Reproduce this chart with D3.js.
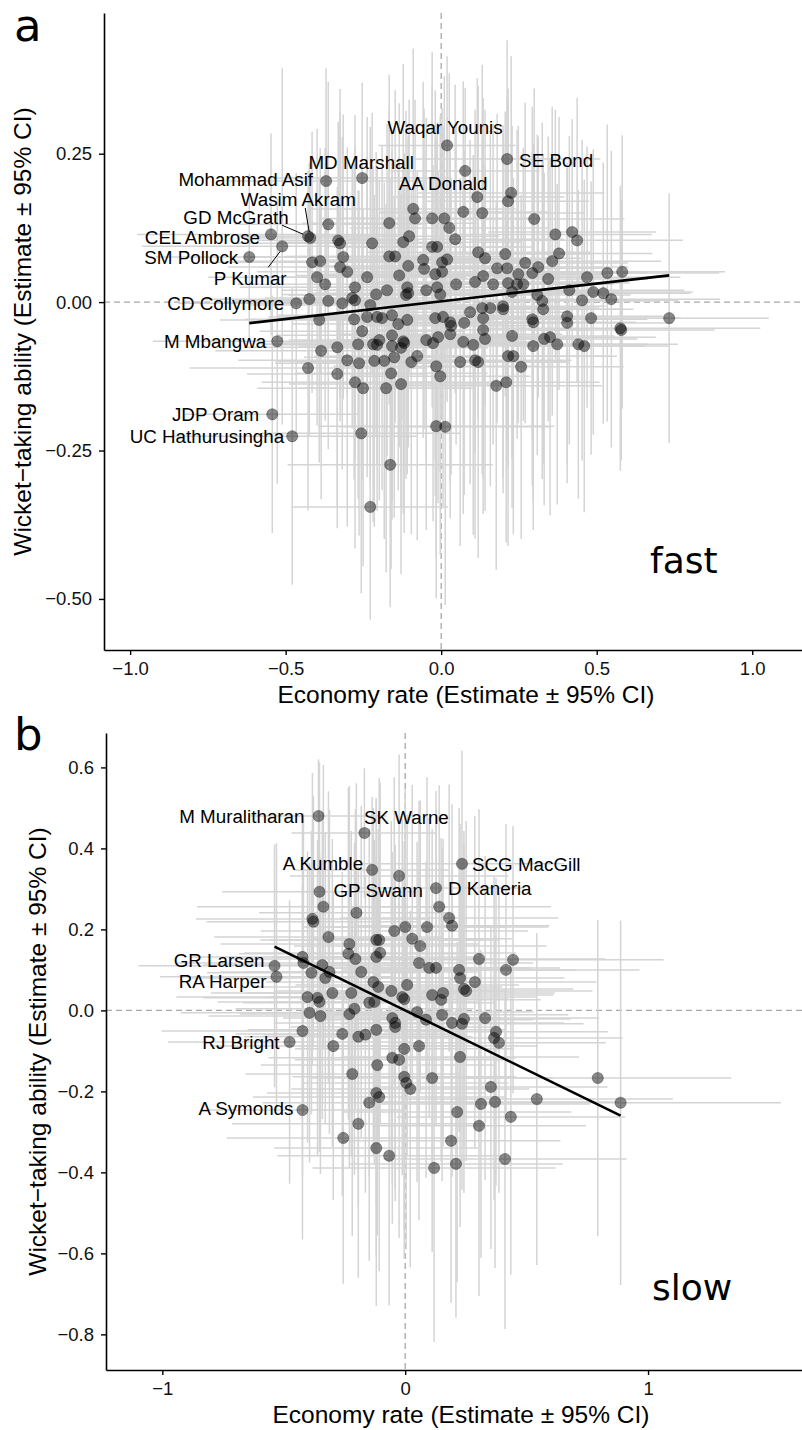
<!DOCTYPE html>
<html>
<head>
<meta charset="utf-8">
<script src="https://cdn.jsdelivr.net/npm/d3@7"></script>
<style>
body { margin: 0; background: #fff; }
</style>
</head>
<body>
<div id="vis"></div>
<script>
// ---- data: [economy, wickets, economy half-CI, wickets half-CI] ----

var fastNamed = [
  ["Waqar Younis", 0.019, 0.264, 0.22, 0.15],
  ["SE Bond", 0.212, 0.241, 0.30, 0.20],
  ["MD Marshall", -0.254, 0.209, 0.28, 0.16],
  ["Mohammad Asif", -0.370, 0.204, 0.32, 0.19],
  ["AA Donald", 0.077, 0.221, 0.24, 0.14],
  ["Wasim Akram", -0.421, 0.108, 0.22, 0.11],
  ["GD McGrath", -0.428, 0.111, 0.22, 0.11],
  ["CEL Ambrose", -0.547, 0.114, 0.43, 0.17],
  ["P Kumar", -0.511, 0.094, 0.45, 0.30],
  ["SM Pollock", -0.617, 0.076, 0.30, 0.14],
  ["CD Collymore", -0.466, -0.002, 0.38, 0.22],
  ["M Mbangwa", -0.527, -0.066, 0.40, 0.24],
  ["JDP Oram", -0.543, -0.189, 0.28, 0.20],
  ["UC Hathurusingha", -0.479, -0.226, 0.40, 0.25]
];

var fastOthers = [
  [-0.363, 0.131, 0.30, 0.24], [-0.331, 0.104, 0.26, 0.20], [-0.325, 0.099, 0.34, 0.26],
  [-0.222, 0.099, 0.30, 0.22], [-0.167, 0.133, 0.28, 0.25], [-0.090, 0.157, 0.33, 0.27],
  [-0.084, 0.141, 0.25, 0.20], [-0.029, 0.141, 0.36, 0.28], [0.010, 0.141, 0.30, 0.24],
  [0.071, 0.152, 0.27, 0.22], [0.045, 0.106, 0.35, 0.26], [-0.103, 0.111, 0.29, 0.23],
  [-0.122, 0.101, 0.38, 0.30], [-0.029, 0.093, 0.32, 0.27], [-0.013, 0.093, 0.26, 0.21],
  [-0.167, 0.077, 0.31, 0.25], [-0.148, 0.077, 0.35, 0.28], [-0.106, 0.061, 0.27, 0.22],
  [-0.135, 0.045, 0.33, 0.29], [-0.058, 0.071, 0.37, 0.30], [0.003, 0.067, 0.30, 0.26],
  [0.019, 0.072, 0.34, 0.24], [-0.055, 0.056, 0.28, 0.27], [-0.019, 0.047, 0.39, 0.31],
  [0.003, 0.051, 0.31, 0.25], [-0.415, 0.067, 0.33, 0.22], [-0.389, 0.069, 0.27, 0.19],
  [-0.315, 0.076, 0.30, 0.24], [-0.325, 0.059, 0.36, 0.26], [-0.302, 0.051, 0.29, 0.21],
  [-0.399, 0.042, 0.35, 0.25], [-0.373, 0.030, 0.28, 0.23], [-0.238, 0.042, 0.32, 0.27],
  [-0.277, 0.025, 0.37, 0.29], [-0.209, 0.013, 0.30, 0.24], [-0.174, 0.020, 0.34, 0.28],
  [-0.109, 0.025, 0.27, 0.22], [-0.106, 0.015, 0.31, 0.26], [-0.113, 0.012, 0.38, 0.31],
  [-0.048, 0.020, 0.33, 0.29], [-0.013, 0.025, 0.29, 0.25], [-0.003, 0.013, 0.36, 0.30],
  [0.048, 0.030, 0.31, 0.27], [-0.424, 0.005, 0.34, 0.23], [-0.363, 0.002, 0.30, 0.25],
  [-0.318, -0.002, 0.36, 0.28], [-0.286, 0.007, 0.28, 0.22], [-0.277, 0.003, 0.33, 0.26],
  [-0.228, -0.005, 0.39, 0.30], [-0.392, -0.030, 0.32, 0.24], [-0.238, -0.025, 0.29, 0.27],
  [-0.206, -0.025, 0.35, 0.25], [-0.190, -0.027, 0.31, 0.29], [-0.158, -0.022, 0.37, 0.31],
  [-0.109, -0.030, 0.28, 0.26], [-0.019, -0.027, 0.33, 0.30], [0.006, -0.025, 0.40, 0.32],
  [0.029, -0.034, 0.30, 0.27], [-0.138, -0.037, 0.34, 0.28], [0.074, -0.035, 0.31, 0.29],
  [-0.280, -0.029, 0.35, 0.27], [0.032, -0.040, 0.27, 0.25], [0.026, 0.125, 0.32, 0.26],
  [0.116, 0.177, 0.28, 0.20], [0.225, 0.184, 0.30, 0.23], [0.215, 0.170, 0.26, 0.19],
  [0.132, 0.150, 0.33, 0.25], [0.299, 0.140, 0.29, 0.22], [0.367, 0.114, 0.31, 0.21],
  [0.421, 0.118, 0.27, 0.19], [0.437, 0.104, 0.34, 0.24], [0.379, 0.082, 0.30, 0.23],
  [0.357, 0.069, 0.35, 0.26], [0.206, 0.081, 0.28, 0.24], [0.119, 0.084, 0.36, 0.28],
  [0.141, 0.074, 0.31, 0.25], [0.270, 0.066, 0.33, 0.27], [0.312, 0.059, 0.29, 0.22],
  [0.293, 0.049, 0.37, 0.28], [0.180, 0.057, 0.30, 0.26], [0.212, 0.057, 0.34, 0.29],
  [0.135, 0.044, 0.38, 0.30], [0.248, 0.047, 0.28, 0.25], [0.344, 0.039, 0.32, 0.24],
  [0.469, 0.042, 0.30, 0.22], [0.534, 0.049, 0.36, 0.25], [0.582, 0.051, 0.33, 0.23],
  [0.109, 0.034, 0.35, 0.29], [0.167, 0.030, 0.29, 0.27], [0.215, 0.032, 0.39, 0.31],
  [0.244, 0.030, 0.31, 0.26], [0.264, 0.030, 0.27, 0.23], [0.228, 0.017, 0.34, 0.28],
  [0.309, 0.012, 0.30, 0.27], [0.412, 0.020, 0.37, 0.26], [0.489, 0.017, 0.32, 0.24],
  [0.521, 0.015, 0.28, 0.22], [0.547, 0.005, 0.35, 0.25], [0.453, 0.003, 0.31, 0.27],
  [0.325, 0.002, 0.36, 0.30], [0.328, -0.012, 0.29, 0.26], [0.199, -0.007, 0.33, 0.29],
  [0.199, -0.012, 0.38, 0.31], [0.132, -0.010, 0.30, 0.28], [0.158, -0.010, 0.35, 0.30],
  [0.093, -0.017, 0.32, 0.29], [0.135, -0.027, 0.28, 0.27], [0.293, -0.029, 0.37, 0.28],
  [0.405, -0.024, 0.31, 0.25], [0.405, -0.035, 0.34, 0.27], [0.482, -0.027, 0.29, 0.23],
  [0.733, -0.027, 0.32, 0.21], [0.576, -0.044, 0.45, 0.24], [0.579, -0.047, 0.30, 0.22],
  [0.296, -0.034, 0.33, 0.30], [-0.386, -0.082, 0.34, 0.25], [-0.334, -0.076, 0.30, 0.27],
  [-0.428, -0.111, 0.38, 0.24], [-0.334, -0.121, 0.29, 0.26], [-0.302, -0.098, 0.35, 0.28],
  [-0.267, -0.071, 0.31, 0.26], [-0.264, -0.103, 0.27, 0.29], [-0.254, -0.049, 0.33, 0.25],
  [-0.219, -0.071, 0.36, 0.30], [-0.199, -0.064, 0.29, 0.27], [-0.206, -0.072, 0.32, 0.28],
  [-0.158, -0.056, 0.37, 0.31], [-0.158, -0.074, 0.30, 0.26], [-0.122, -0.066, 0.34, 0.29],
  [-0.129, -0.077, 0.28, 0.27], [-0.119, -0.069, 0.39, 0.32], [-0.215, -0.099, 0.31, 0.28],
  [-0.183, -0.099, 0.35, 0.30], [-0.151, -0.093, 0.29, 0.27], [-0.077, -0.091, 0.33, 0.31],
  [-0.096, -0.101, 0.37, 0.29], [-0.048, -0.064, 0.30, 0.32], [-0.026, -0.069, 0.34, 0.30],
  [-0.010, -0.059, 0.28, 0.28], [0.029, -0.054, 0.36, 0.31], [0.071, -0.067, 0.31, 0.29],
  [-0.016, -0.108, 0.33, 0.32], [-0.003, -0.125, 0.29, 0.30], [0.061, -0.101, 0.35, 0.31],
  [-0.277, -0.135, 0.30, 0.28], [-0.251, -0.145, 0.34, 0.30], [-0.161, -0.120, 0.31, 0.33],
  [-0.177, -0.145, 0.28, 0.31], [-0.129, -0.138, 0.36, 0.32], [-0.257, -0.221, 0.32, 0.27],
  [-0.016, -0.209, 0.38, 0.29], [0.013, -0.210, 0.34, 0.30], [-0.164, -0.274, 0.33, 0.24],
  [-0.228, -0.345, 0.25, 0.19], [0.135, -0.047, 0.34, 0.31], [0.141, -0.062, 0.30, 0.29],
  [0.103, -0.072, 0.37, 0.32], [0.109, -0.098, 0.31, 0.30], [0.119, -0.101, 0.28, 0.33],
  [0.228, -0.057, 0.33, 0.29], [0.296, -0.074, 0.36, 0.31], [0.331, -0.062, 0.30, 0.28],
  [0.350, -0.059, 0.34, 0.30], [0.373, -0.071, 0.29, 0.27], [0.441, -0.071, 0.32, 0.26],
  [0.460, -0.074, 0.27, 0.28], [0.215, -0.091, 0.35, 0.32], [0.232, -0.091, 0.31, 0.30],
  [0.257, -0.109, 0.33, 0.29], [0.209, -0.135, 0.30, 0.27], [0.177, -0.141, 0.34, 0.31]
];

var slowNamed = [
  ["M Muralitharan", -0.357, 0.480, 0.28, 0.14],
  ["SK Warne", -0.168, 0.438, 0.30, 0.16],
  ["A Kumble", -0.136, 0.347, 0.32, 0.18],
  ["GP Swann", -0.353, 0.293, 0.40, 0.32],
  ["D Kaneria", 0.127, 0.302, 0.36, 0.24],
  ["SCG MacGill", 0.234, 0.362, 0.42, 0.28],
  ["GR Larsen", -0.538, 0.110, 0.56, 0.30],
  ["RA Harper", -0.530, 0.083, 0.48, 0.33],
  ["RJ Bright", -0.476, -0.078, 0.50, 0.35],
  ["A Symonds", -0.423, -0.246, 0.42, 0.32]
];

var slowOthers = [
  [-0.025, 0.332, 0.45, 0.30], [-0.337, 0.256, 0.52, 0.35], [-0.201, 0.241, 0.40, 0.32],
  [0.140, 0.256, 0.46, 0.30], [-0.382, 0.226, 0.48, 0.36], [-0.378, 0.219, 0.44, 0.31],
  [-0.045, 0.196, 0.55, 0.38], [0.000, 0.206, 0.42, 0.34], [0.090, 0.206, 0.50, 0.37],
  [0.181, 0.228, 0.45, 0.33], [0.193, 0.209, 0.40, 0.30], [-0.316, 0.181, 0.47, 0.36],
  [-0.230, 0.164, 0.53, 0.39], [-0.119, 0.174, 0.44, 0.35], [-0.107, 0.174, 0.49, 0.40],
  [0.029, 0.177, 0.41, 0.38], [0.062, 0.159, 0.52, 0.36], [-0.234, 0.140, 0.45, 0.41],
  [-0.205, 0.127, 0.50, 0.37], [-0.119, 0.132, 0.43, 0.39], [-0.103, 0.142, 0.56, 0.42],
  [0.057, 0.117, 0.47, 0.40], [0.099, 0.105, 0.42, 0.37], [0.127, 0.105, 0.51, 0.39],
  [-0.423, 0.132, 0.46, 0.34], [-0.419, 0.117, 0.52, 0.37], [-0.386, 0.093, 0.43, 0.35],
  [-0.341, 0.112, 0.49, 0.38], [-0.312, 0.095, 0.45, 0.40], [-0.329, 0.080, 0.55, 0.36],
  [-0.181, 0.095, 0.48, 0.41], [-0.131, 0.070, 0.44, 0.43], [-0.111, 0.058, 0.51, 0.39],
  [0.008, 0.063, 0.46, 0.42], [-0.300, 0.043, 0.50, 0.38], [-0.222, 0.043, 0.43, 0.40],
  [-0.402, 0.033, 0.54, 0.36], [-0.361, 0.031, 0.47, 0.39], [-0.353, 0.021, 0.42, 0.37],
  [-0.209, 0.004, 0.49, 0.41], [-0.230, -0.009, 0.45, 0.38], [-0.148, 0.019, 0.52, 0.43],
  [-0.127, 0.021, 0.44, 0.40], [-0.057, 0.048, 0.48, 0.42], [-0.012, 0.033, 0.55, 0.44],
  [-0.004, 0.028, 0.43, 0.39], [0.111, 0.038, 0.50, 0.41], [0.156, 0.043, 0.46, 0.38],
  [0.148, 0.026, 0.41, 0.40], [-0.394, -0.006, 0.53, 0.37], [-0.349, -0.014, 0.46, 0.39],
  [-0.423, -0.051, 0.58, 0.36], [-0.259, -0.058, 0.44, 0.40], [-0.296, -0.088, 0.51, 0.38],
  [-0.193, -0.065, 0.47, 0.42], [-0.164, -0.060, 0.42, 0.39], [-0.119, -0.048, 0.53, 0.43],
  [-0.053, -0.019, 0.45, 0.41], [-0.041, -0.031, 0.50, 0.44], [-0.041, -0.041, 0.43, 0.40],
  [0.049, -0.004, 0.48, 0.42], [0.086, -0.023, 0.44, 0.39], [0.152, -0.011, 0.52, 0.41],
  [0.193, -0.031, 0.46, 0.38], [0.057, -0.088, 0.49, 0.43], [-0.004, -0.095, 0.45, 0.45],
  [-0.053, -0.117, 0.51, 0.41], [-0.025, -0.122, 0.43, 0.44], [-0.115, -0.135, 0.48, 0.42],
  [-0.218, -0.157, 0.44, 0.40], [0.111, -0.167, 0.50, 0.43], [-0.004, -0.164, 0.46, 0.45],
  [0.004, -0.179, 0.42, 0.41], [0.021, -0.194, 0.49, 0.44], [-0.119, -0.204, 0.45, 0.40],
  [-0.107, -0.214, 0.52, 0.43], [-0.148, -0.228, 0.44, 0.39], [0.214, -0.251, 0.47, 0.42],
  [-0.193, -0.280, 0.52, 0.38], [-0.255, -0.315, 0.48, 0.36], [0.189, -0.322, 0.45, 0.40],
  [-0.119, -0.340, 0.42, 0.39], [-0.066, -0.359, 0.46, 0.37], [0.119, -0.389, 0.50, 0.43],
  [0.209, -0.379, 0.44, 0.38], [0.304, 0.127, 0.52, 0.37], [0.444, 0.125, 0.62, 0.33],
  [0.415, 0.100, 0.55, 0.36], [0.222, 0.100, 0.48, 0.40], [0.226, 0.080, 0.43, 0.38],
  [0.287, 0.070, 0.50, 0.41], [0.242, 0.053, 0.45, 0.39], [0.251, 0.048, 0.52, 0.42],
  [0.329, -0.019, 0.47, 0.40], [0.242, -0.021, 0.44, 0.43], [0.234, -0.033, 0.50, 0.41],
  [0.374, -0.053, 0.46, 0.38], [0.366, -0.068, 0.53, 0.40], [0.386, -0.080, 0.44, 0.37],
  [0.226, -0.115, 0.49, 0.42], [0.793, -0.167, 0.55, 0.39], [0.887, -0.228, 0.66, 0.45],
  [0.542, -0.219, 0.56, 0.41], [0.353, -0.189, 0.48, 0.40], [0.312, -0.231, 0.45, 0.38],
  [0.370, -0.226, 0.51, 0.41], [0.435, -0.263, 0.47, 0.39], [0.304, -0.285, 0.44, 0.42],
  [0.411, -0.367, 0.50, 0.42]
];

// fitted lines: [intercept, slope, x from, x to]
var fastFit = [0.0014, 0.0596, -0.617, 0.733];
var slowFit = [0.0, -0.293, -0.538, 0.887];

var fastXTicks = [-1, -0.5, 0, 0.5, 1];
var fastYTicks = [-0.5, -0.25, 0, 0.25];
var slowXTicks = [-1, 0, 1];
var slowYTicks = [-0.8, -0.6, -0.4, -0.2, 0, 0.2, 0.4, 0.6];

var xTitle = 'Economy rate (Estimate \u00b1 95% CI)';
var yTitle = 'Wicket\u2212taking ability (Estimate \u00b1 95% CI)';

// label placement (pixel offsets from the point)
var labelPos = {
  "Waqar Younis": { a: 'middle', dx: -2, dy: -18 },
  "SE Bond": { a: 'start', dx: 12, dy: 1 },
  "MD Marshall": { a: 'middle', dx: -1, dy: -16 },
  "Mohammad Asif": { a: 'end', dx: -13, dy: -2 },
  "AA Donald": { a: 'middle', dx: -22, dy: 12 },
  "Wasim Akram": { a: 'middle', dx: -12, dy: -39, seg: [-5, -30, -1, -6] },
  "GD McGrath": { a: 'middle', dx: -72, dy: -19, seg: [-26, -11, -5, -2] },
  "CEL Ambrose": { a: 'end', dx: -11, dy: 3 },
  "P Kumar": { a: 'middle', dx: -32, dy: 32, seg: [-14, 21, -2, 5] },
  "SM Pollock": { a: 'end', dx: -11, dy: 0 },
  "CD Collymore": { a: 'end', dx: -12, dy: 0 },
  "M Mbangwa": { a: 'end', dx: -11, dy: 0 },
  "JDP Oram": { a: 'end', dx: -13, dy: 0 },
  "UC Hathurusingha": { a: 'end', dx: -8, dy: 0 },
  "M Muralitharan": { a: 'end', dx: -14, dy: 0 },
  "SK Warne": { a: 'middle', dx: 42, dy: -16 },
  "A Kumble": { a: 'end', dx: -9, dy: -7 },
  "SCG MacGill": { a: 'start', dx: 10, dy: 0 },
  "GP Swann": { a: 'start', dx: 14, dy: -2 },
  "D Kaneria": { a: 'start', dx: 12, dy: 0 },
  "GR Larsen": { a: 'end', dx: -10, dy: -6 },
  "RA Harper": { a: 'end', dx: -10, dy: 4 },
  "RJ Bright": { a: 'end', dx: -10, dy: 0 },
  "A Symonds": { a: 'end', dx: -9, dy: -2 }
};

var panels = [
  { id: 'fast', letter: 'a', tag: 'fast', named: fastNamed, others: fastOthers, fit: fastFit,
    left: 104, right: 802, top: 13, bottom: 650,
    xDomain: [-1.084, 1.160], yDomain: [-0.586, 0.487],
    xTicks: fastXTicks, yTicks: fastYTicks, xFmt: '.1f', yFmt: '.2f',
    yTitleX: 31, xTitleX: 466, tagX: 650, tagY: 573, letterY: 41 },
  { id: 'slow', letter: 'b', tag: 'slow', named: slowNamed, others: slowOthers, fit: slowFit,
    left: 106, right: 802, top: 733, bottom: 1370,
    xDomain: [-1.232, 1.634], yDomain: [-0.888, 0.685],
    xTicks: slowXTicks, yTicks: slowYTicks, xFmt: 'd', yFmt: '.1f',
    yTitleX: 46, xTitleX: 461, tagX: 652, tagY: 1300, letterY: 750 }
];

var svg = d3.select('#vis')
  .append('svg')
  .attr('width', 802)
  .attr('height', 1430)
  .style('display', 'block');

var labelFont = '"Liberation Sans", Arial, sans-serif';

function drawPanel(p) {
  var x = d3.scaleLinear().domain(p.xDomain).range([p.left, p.right]);
  var y = d3.scaleLinear().domain(p.yDomain).range([p.bottom, p.top]);

  var g = svg.append('g').attr('class', p.id);

  g.append('clipPath').attr('id', 'clip-' + p.id)
    .append('rect')
    .attr('x', p.left).attr('y', p.top)
    .attr('width', p.right - p.left).attr('height', p.bottom - p.top);

  var plot = g.append('g').attr('clip-path', 'url(#clip-' + p.id + ')');

  // every point, named ones too
  var rows = p.others.concat(p.named.map(function(d) { return d.slice(1); }));

  // dashed reference lines at zero
  plot.append('line')
    .attr('x1', x(0)).attr('x2', x(0))
    .attr('y1', p.top).attr('y2', p.bottom)
    .attr('stroke', '#a8a8a8').attr('stroke-width', 1.3)
    .attr('stroke-dasharray', '6,4');
  plot.append('line')
    .attr('x1', p.left).attr('x2', p.right)
    .attr('y1', y(0)).attr('y2', y(0))
    .attr('stroke', '#a8a8a8').attr('stroke-width', 1.3)
    .attr('stroke-dasharray', '6,4');

  // error bars
  plot.selectAll('.vbar')
    .data(rows)
    .enter()
    .append('line')
    .attr('class', 'vbar')
    .attr('x1', function(d) { return x(d[0]); })
    .attr('x2', function(d) { return x(d[0]); })
    .attr('y1', function(d) { return y(d[1] - d[3]); })
    .attr('y2', function(d) { return y(d[1] + d[3]); })
    .attr('stroke', '#d4d4d4')
    .attr('stroke-width', 1.5);

  plot.selectAll('.hbar')
    .data(rows)
    .enter()
    .append('line')
    .attr('class', 'hbar')
    .attr('x1', function(d) { return x(d[0] - d[2]); })
    .attr('x2', function(d) { return x(d[0] + d[2]); })
    .attr('y1', function(d) { return y(d[1]); })
    .attr('y2', function(d) { return y(d[1]); })
    .attr('stroke', '#d4d4d4')
    .attr('stroke-width', 1.5);

  // points
  plot.selectAll('.pt')
    .data(rows)
    .enter()
    .append('circle')
    .attr('class', 'pt')
    .attr('cx', function(d) { return x(d[0]); })
    .attr('cy', function(d) { return y(d[1]); })
    .attr('r', 5.6)
    .attr('fill', '#000')
    .attr('fill-opacity', 0.46)
    .attr('stroke', '#000')
    .attr('stroke-opacity', 0.3)
    .attr('stroke-width', 1);

  // fitted line
  var f = p.fit;
  plot.append('line')
    .attr('x1', x(f[2])).attr('y1', y(f[0] + f[1] * f[2]))
    .attr('x2', x(f[3])).attr('y2', y(f[0] + f[1] * f[3]))
    .attr('stroke', '#000')
    .attr('stroke-width', 2.6);

  // name labels
  p.named.forEach(function(d) {
    var lp = labelPos[d[0]];
    var px = x(d[1]), py = y(d[2]);
    if (lp.seg) {
      g.append('line')
        .attr('x1', px + lp.seg[0]).attr('y1', py + lp.seg[1])
        .attr('x2', px + lp.seg[2]).attr('y2', py + lp.seg[3])
        .attr('stroke', '#000').attr('stroke-width', 1);
    }
    g.append('text')
      .attr('x', px + lp.dx)
      .attr('y', py + lp.dy)
      .attr('dy', '0.36em')
      .attr('text-anchor', lp.a)
      .style('font-family', labelFont)
      .style('font-size', '18.8px')
      .style('fill', '#000')
      .text(d[0]);
  });

  // axes
  var xAxis = d3.axisBottom(x)
    .tickValues(p.xTicks)
    .tickFormat(d3.format(p.xFmt))
    .tickSize(5).tickSizeOuter(0).tickPadding(7);
  var yAxis = d3.axisLeft(y)
    .tickValues(p.yTicks)
    .tickFormat(d3.format(p.yFmt))
    .tickSize(5).tickSizeOuter(0).tickPadding(7);

  var gx = g.append('g')
    .attr('transform', 'translate(0,' + p.bottom + ')')
    .call(xAxis);
  var gy = g.append('g')
    .attr('transform', 'translate(' + p.left + ',0)')
    .call(yAxis);

  [gx, gy].forEach(function(a) {
    a.select('.domain').attr('stroke', '#000').attr('stroke-width', 1.6);
    a.selectAll('.tick line').attr('stroke', '#000').attr('stroke-width', 1.4);
    a.selectAll('.tick text')
      .style('font-family', labelFont)
      .style('font-size', '18.5px')
      .style('fill', '#111');
  });

  // axis titles
  g.append('text')
    .attr('x', p.xTitleX)
    .attr('y', p.bottom + 53)
    .attr('text-anchor', 'middle')
    .style('font-family', labelFont)
    .style('font-size', '24.5px')
    .text(xTitle);

  g.append('text')
    .attr('transform', 'translate(' + p.yTitleX + ',' + ((p.top + p.bottom) / 2) + ') rotate(-90)')
    .attr('text-anchor', 'middle')
    .style('font-family', labelFont)
    .style('font-size', '24.5px')
    .text(yTitle);

  // panel letter and group tag
  g.append('text')
    .attr('x', 14)
    .attr('y', p.letterY)
    .style('font-family', '"DejaVu Sans", sans-serif')
    .style('font-size', '45px')
    .text(p.letter);

  g.append('text')
    .attr('x', p.tagX)
    .attr('y', p.tagY)
    .style('font-family', '"DejaVu Sans", sans-serif')
    .style('font-size', '36px')
    .text(p.tag);
}

panels.forEach(drawPanel);
</script>
</body>
</html>
